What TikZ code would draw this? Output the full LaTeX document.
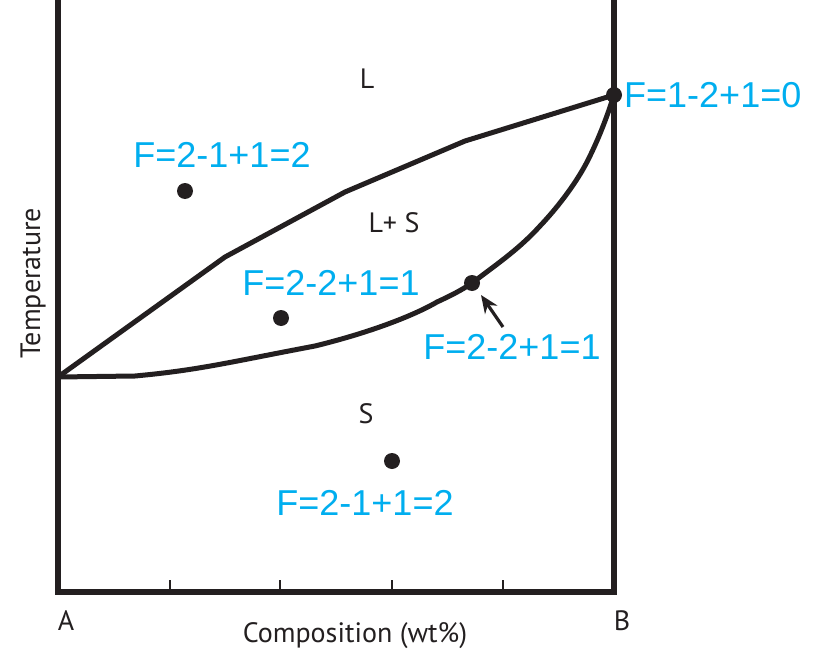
\documentclass[tikz,border=0pt]{standalone}
\usepackage{fontspec}
\setmainfont{Liberation Sans}
\newfontfamily\lblfont{PT Sans}
\usetikzlibrary{arrows.meta}
\definecolor{fblue}{RGB}{0,174,239}
\definecolor{ink}{RGB}{35,31,32}
\begin{document}
\begin{tikzpicture}[x=1pt,y=-1pt,
  axis/.style={line width=5.5pt,ink},
  curve/.style={line width=5pt,ink,line join=round},
  tick/.style={line width=1.5pt,ink},
  dot/.style={circle,fill=ink,inner sep=0pt,minimum size=16pt},
  flabel/.style={text=fblue,font=\fontsize{36}{40}\selectfont,inner sep=0pt},
  plabel/.style={text=ink,font=\lblfont\fontsize{28}{30}\selectfont,inner sep=0pt}]
\useasboundingbox (0,0) rectangle (823,653);
% axes
\coordinate (tl) at (58,0);
\coordinate (bl) at (58,592);
\coordinate (br) at (614,592);
\coordinate (tr) at (614,0);
\draw[axis,line join=miter] (tl) -- (bl) -- (br) -- (tr);
% ticks
\foreach \x in {170,280,392,503}{
  \coordinate (t\x a) at (\x,580);
  \coordinate (t\x b) at (\x,592);
  \draw[tick] (t\x a) -- (t\x b);
}
% phase points
\coordinate (Ta) at (58,377);
\node[dot] (Tb) at (614,95) {};
% liquidus
\draw[curve] (Ta) -- (225,257) -- (345,192) -- (465,141) -- (Tb.center);
% solidus
\draw[curve] (Ta) -- (135,376) .. controls (200,370) and (230,362) .. (315,346)
  .. controls (380,330) and (420,312) .. (437,302)
  .. controls (450,296) and (462,290) .. (472,283)
  .. controls (500,262) and (520,248) .. (540,226)
  .. controls (560,205) and (578,180) .. (588,160)
  .. controls (598,140) and (606,120) .. (Tb.center);
% dots
\node[dot] (d1) at (185,191) {};
\node[dot] (d2) at (281,318) {};
\node[dot] (d3) at (392,461) {};
\node[dot] (d4) at (472,283) {};
% arrow
\coordinate (arrtail) at (503,327);
\coordinate (arrtip) at (481,295);
\draw[line width=3.2pt,ink,-{Stealth[length=18pt,width=15pt]}] (arrtail) -- (arrtip);
% labels
\node[flabel] (f1) at (222,155) {F=2-1+1=2};
\node[flabel,anchor=west] (f0) at (624,95) {F=1-2+1=0};
\node[flabel] (f2) at (331,283) {F=2-2+1=1};
\node[flabel] (f3) at (512,347) {F=2-2+1=1};
\node[flabel] (f4) at (365,503) {F=2-1+1=2};
\node[plabel] (pL) at (367,79) {L};
\node[plabel] (pLS) at (394,223) {L+ S};
\node[plabel] (pS) at (366,414) {S};
\node[plabel] (pA) at (66,621) {A};
\node[plabel] (pB) at (622,621) {B};
\node[plabel] (pC) at (355,636) {Composition (wt\%)};
\node[plabel,rotate=90] (pT) at (33,283) {Temperature};
\end{tikzpicture}
\end{document}
